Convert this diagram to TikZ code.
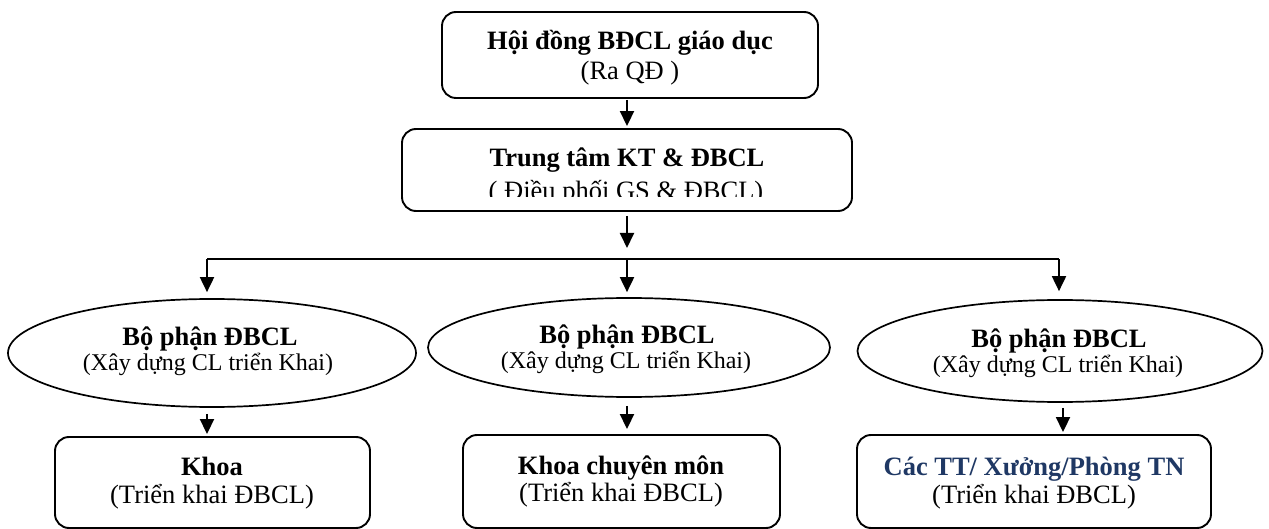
\documentclass[tikz,border=0pt]{standalone}
\usepackage{fontspec}
\setmainfont{Liberation Serif}
\usetikzlibrary{arrows.meta,shapes.geometric}
\definecolor{navy}{RGB}{31,56,100}
\begin{document}
\begin{tikzpicture}[x=1pt,y=-1pt,
  box/.style={draw,line width=1.9pt,rounded corners=14pt,inner sep=0pt},
  oval/.style={draw,ellipse,line width=1.7pt,inner sep=0pt},
  arr/.style={line width=1.9pt,-{Triangle[width=14pt,length=15pt]}},
  txt/.style={font=\fontsize{26.5}{30}\selectfont,anchor=base,inner sep=0pt},
  stxt/.style={txt,font=\fontsize{24}{28}\selectfont},
  btxt/.style={txt,font=\fontsize{26.5}{30}\selectfont\bfseries},
]
\useasboundingbox (0,0) rectangle (1269,529);

% shapes
\node[box,minimum width=376pt,minimum height=86pt] (top) at (630,55) {};
\node[box,minimum width=450pt,minimum height=82pt] (mid) at (627,170) {};
\node[oval,minimum width=408pt,minimum height=108pt] (e1) at (212,353) {};
\node[oval,minimum width=402pt,minimum height=99pt] (e2) at (629,347.5) {};
\node[oval,minimum width=405pt,minimum height=102pt] (e3) at (1060,351) {};
\node[box,minimum width=315pt,minimum height=91pt] (b1) at (212.5,482.5) {};
\node[box,minimum width=317pt,minimum height=93pt] (b2) at (621.5,481.5) {};
\node[box,minimum width=354pt,minimum height=93pt] (b3) at (1034,481.5) {};

% texts
\node[btxt] (t1a) at (630,50) {Hội đồng BĐCL giáo dục};
\node[txt] (t1b) at (630,80) {(Ra QĐ )};
\node[btxt] (t2a) at (627,167) {Trung tâm KT \& ĐBCL};
\begin{scope}
  \clip (402,129) rectangle (852,197);
  \node[txt] (t2b) at (626,200) {( Điều phối GS \& ĐBCL)};
\end{scope}
\node[btxt] (e1a) at (210,345) {Bộ phận ĐBCL};
\node[stxt] (e1b) at (208,370) {(Xây dựng CL triển Khai)};
\node[btxt] (e2a) at (627,343) {Bộ phận ĐBCL};
\node[stxt] (e2b) at (626,368) {(Xây dựng CL triển Khai)};
\node[btxt] (e3a) at (1059,347) {Bộ phận ĐBCL};
\node[stxt] (e3b) at (1058,372) {(Xây dựng CL triển Khai)};
\node[btxt] (b1a) at (212,475) {Khoa};
\node[txt] (b1b) at (212,503) {(Triển khai ĐBCL)};
\node[btxt] (b2a) at (621,474) {Khoa chuyên môn};
\node[txt] (b2b) at (621,501) {(Triển khai ĐBCL)};
\node[btxt,text=navy] (b3a) at (1034,475) {Các TT/ Xưởng/Phòng TN};
\node[txt] (b3b) at (1034,503) {(Triển khai ĐBCL)};

% connectors
\coordinate (x1) at (207,0);
\coordinate (x2) at (627,0);
\coordinate (x3) at (1059,0);
\coordinate (x3b) at (1063,0);
\coordinate (j) at (627,248);
\coordinate (hl) at (207,259);
\coordinate (hm) at (627,259);
\coordinate (hr) at (1059,259);

\draw[arr,shorten <=1pt,shorten >=2pt] (top.south -| x2) -- (mid.north -| x2);
\draw[arr,shorten <=4pt] (mid.south -| x2) -- (j);
\draw[line width=1.9pt] (hl) -- (hr);
\draw[arr,shorten >=6pt] (hl) -- (e1.north -| x1);
\draw[arr,shorten >=5pt] (hm) -- (e2.north -| x2);
\draw[arr,shorten >=8pt] (hr) -- (e3.north -| x3);
\draw[arr,shorten <=6pt,shorten >=2pt] (e1.south -| x1) -- (b1.north -| x1);
\draw[arr,shorten <=8pt,shorten >=5pt] (e2.south -| x2) -- (b2.north -| x2);
\draw[arr,shorten <=5pt,shorten >=2pt] (e3.south -| x3b) -- (b3.north -| x3b);
\end{tikzpicture}
\end{document}
